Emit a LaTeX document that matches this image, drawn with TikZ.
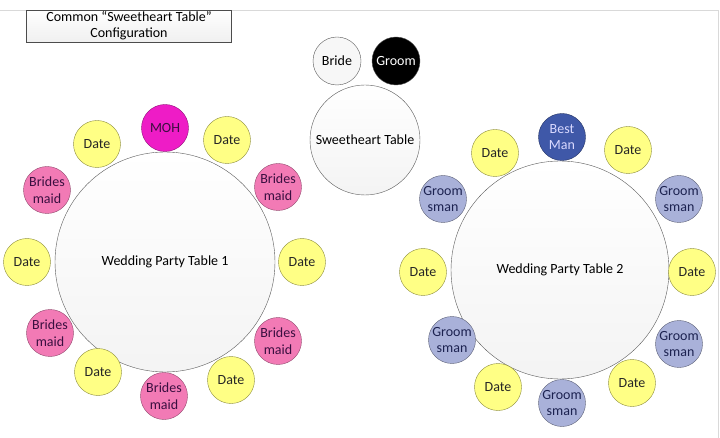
\documentclass[tikz,border=0pt]{standalone}
\usepackage{xcolor}
\usepackage{fontspec}
\setmainfont{Carlito}
\usepackage{tikz}

\definecolor{dateyellow}{HTML}{FFFF85}
\definecolor{dateline}{HTML}{8C8C3C}
\definecolor{maidpink}{HTML}{F27AB5}
\definecolor{mohpink}{HTML}{EE1CC6}
\definecolor{groomblue}{HTML}{A9B1D9}
\definecolor{bestblue}{HTML}{3F58A8}
\definecolor{darktext}{HTML}{3A0F40}
\definecolor{navytext}{HTML}{1C2250}

\tikzset{
	seat/.style={circle, draw=gray!70!black, thin, minimum size=47pt, inner sep=0pt,
		align=center, font=\fontsize{14}{16.5}\selectfont},
	date/.style={seat, fill=dateyellow, draw=dateline, text=black!85},
	maid/.style={seat, fill=maidpink, draw=maidpink!60!black, text=darktext},
	moh/.style={seat, fill=mohpink, draw=mohpink!60!black, text=darktext},
	gman/.style={seat, fill=groomblue, draw=groomblue!55!black, text=navytext},
	bestman/.style={seat, fill=bestblue, draw=bestblue!60!black, text=blue!15},
	bigtable/.style={circle, draw=gray!70!black, thin, top color=white, bottom color=gray!9,
		inner sep=0pt, font=\fontsize{14}{16.5}\selectfont}
}

\begin{document}
\begin{tikzpicture}
	[x=1pt, y=-1pt]
	\useasboundingbox (0,0) rectangle (720,438);
	% page edges
	\draw[gray!30] (0,10) -- (718,10) -- (718,438);
	% title
	\node[draw=gray!60!black, top color=white, bottom color=gray!12, minimum width=205pt,
		minimum height=32pt, inner sep=0pt, align=center,
		font=\fontsize{14}{16}\selectfont] (title) at (129,26)
		{Common “Sweetheart Table”\\Configuration};

	% sweetheart table
	\node[bigtable, minimum size=110pt] (sweet) at (365,140) {Sweetheart Table};
	\node[seat, fill=gray!6, minimum size=48pt] (bride) at (337,61) {Bride};
	\node[seat, fill=black, text=white, minimum size=48pt] (groom) at (396,61) {Groom};

	% wedding party table 1
	\node[bigtable, minimum size=220pt] (tableA) at (165,262) {Wedding Party Table 1};
	\node[moh] (moh) at (165,128) {MOH};
	\node[date] (dateA1) at (97,144) {Date};
	\node[date] (dateA2) at (227,140) {Date};
	\node[maid] (maidA1) at (47,190) {Brides\\maid};
	\node[maid] (maidA2) at (278,187) {Brides\\maid};
	\node[date] (dateA3) at (27,262) {Date};
	\node[date] (dateA4) at (302,262) {Date};
	\node[maid] (maidA3) at (50,333) {Brides\\maid};
	\node[maid] (maidA4) at (278,341) {Brides\\maid};
	\node[date] (dateA5) at (98,372) {Date};
	\node[date] (dateA6) at (231,380) {Date};
	\node[maid] (maidA5) at (164,396) {Brides\\maid};

	% wedding party table 2
	\node[bigtable, minimum size=218pt] (tableB) at (560,270) {Wedding Party Table 2};
	\node[bestman] (best) at (562,137) {Best\\Man};
	\node[date] (dateB1) at (495,153) {Date};
	\node[date] (dateB2) at (628,150) {Date};
	\node[gman] (gmanB1) at (443,199) {Groom\\sman};
	\node[gman] (gmanB2) at (679,199) {Groom\\sman};
	\node[date] (dateB3) at (423,272) {Date};
	\node[date] (dateB4) at (692,272) {Date};
	\node[gman] (gmanB3) at (452,340) {Groom\\sman};
	\node[gman] (gmanB4) at (679,344) {Groom\\sman};
	\node[date] (dateB5) at (498,387) {Date};
	\node[date] (dateB6) at (632,383) {Date};
	\node[gman] (gmanB5) at (562,403) {Groom\\sman};
\end{tikzpicture}
\end{document}
